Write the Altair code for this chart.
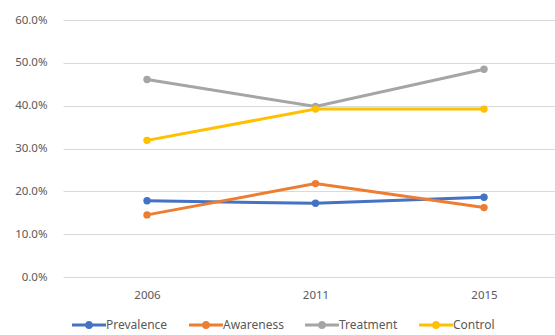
import altair as alt
import pandas as pd

years = ["2006", "2011", "2015"]
series = ["Prevalence", "Awareness", "Treatment", "Control"]
prevalence = [0.178, 0.172, 0.186]
awareness = [0.145, 0.218, 0.162]
treatment = [0.461, 0.398, 0.485]
control = [0.319, 0.392, 0.392]
colors = ["#4472C4", "#ED7D31", "#A5A5A5", "#FFC000"]

rows = []
for name, vals in zip(series, [prevalence, awareness, treatment, control]):
    for y, v in zip(years, vals):
        rows.append({"Year": y, "Series": name, "Value": v})
df = pd.DataFrame(rows)

FONT = "Noto Sans"
sym = ("M-1,-0.09 L1,-0.09 L1,0.09 L-1,0.09 Z "
       "M0.24,0 A0.24,0.24 0 1,1 -0.24,0 A0.24,0.24 0 1,1 0.24,0 Z")

color = alt.Color(
    "Series:N",
    scale=alt.Scale(domain=series, range=colors),
    sort=series,
    legend=alt.Legend(
        title=None,
        orient="none",
        direction="horizontal",
        legendX=9,
        legendY=288,
        symbolType=sym,
        symbolSize=1156,
        symbolStrokeWidth=0,
        symbolOpacity=1,
        labelFont=FONT,
        labelFontSize=12,
        labelColor="#595959",
        labelOffset=0,
        columnPadding=21,
    ),
)

x = alt.X(
    "Year:O",
    sort=years,
    title=None,
    scale=alt.Scale(type="point", padding=0.46, align=0.542),
    axis=alt.Axis(labelAngle=0, domain=False, ticks=False, labelPadding=12,
                  labelFont=FONT, labelFontSize=11.5, labelColor="#595959"),
)
y = alt.Y(
    "Value:Q",
    title=None,
    scale=alt.Scale(domain=[0, 0.6], nice=False),
    axis=alt.Axis(format=".1%", values=[0, 0.1, 0.2, 0.3, 0.4, 0.5, 0.6], domain=False, ticks=False,
                  labelPadding=16, labelFont=FONT, labelFontSize=11.5, labelColor="#595959",
                  gridColor="#D9D9D9", gridWidth=1),
)

base = alt.Chart(df).encode(x=x, y=y, color=color)
lines = base.mark_line(strokeWidth=3)
points = base.mark_point(filled=True, size=55, opacity=1, shape="circle")

chart = alt.layer(lines, points).properties(
    width=492,
    height=257,
    background="white",
    autosize=alt.AutoSizeParams(type="none"),
    padding={"left": 63, "top": 20, "right": 0, "bottom": 58},
).configure_view(stroke=None)

chart.save("out.html", embed_options={"renderer": "svg", "actions": False})
